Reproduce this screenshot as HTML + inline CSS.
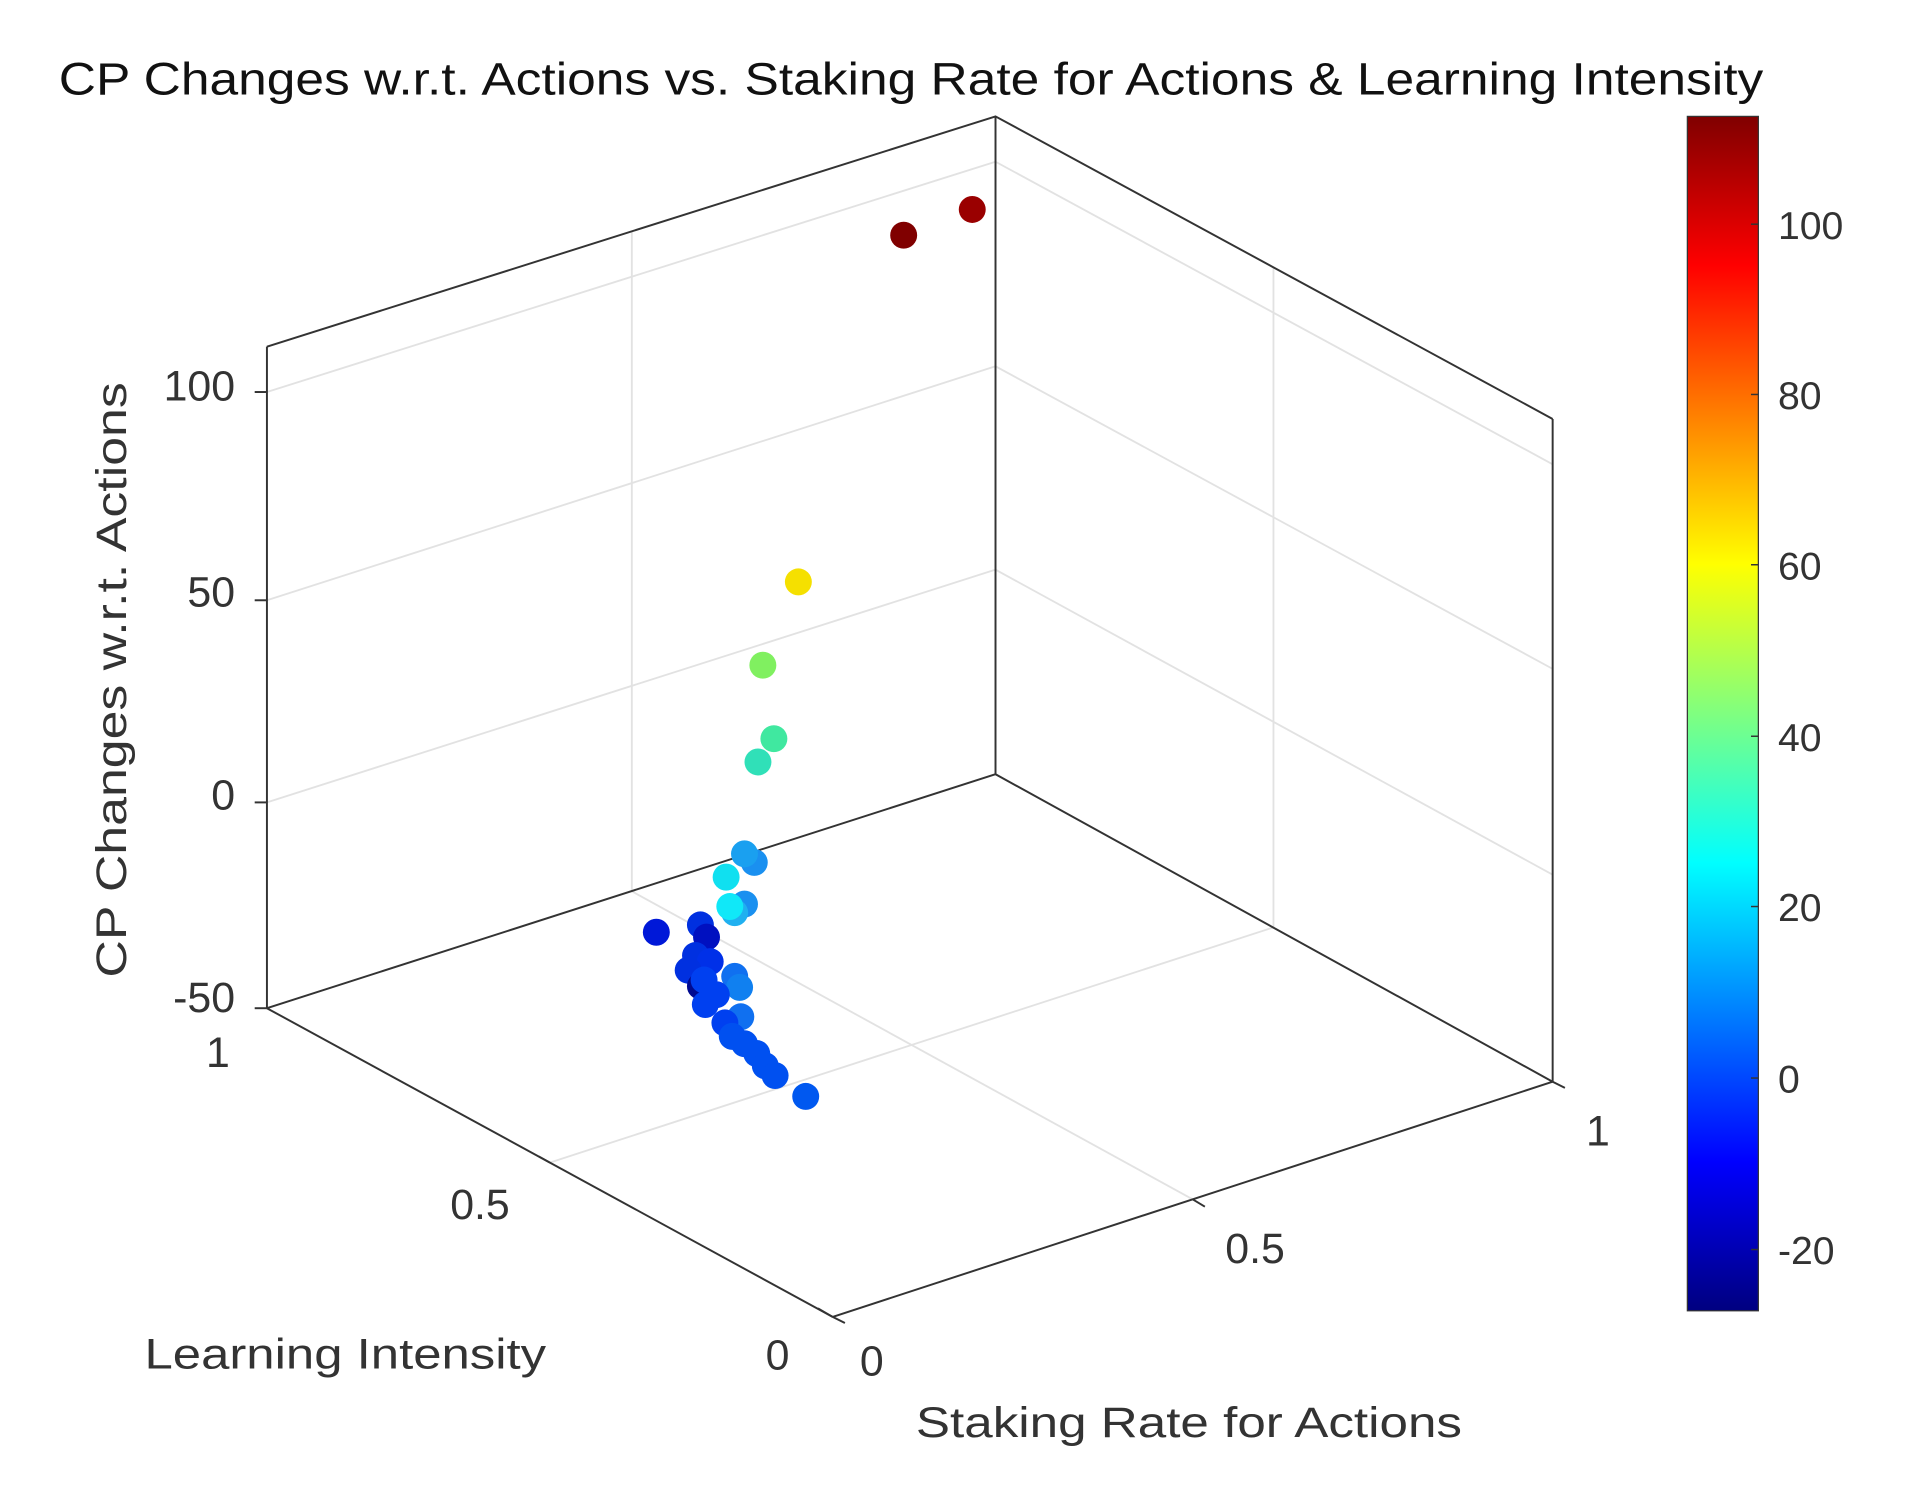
<!DOCTYPE html>
<html><head><meta charset="utf-8"><style>html,body{margin:0;padding:0;background:#fff}svg{display:block}</style></head>
<body>
<svg width="1920" height="1497" viewBox="0 0 1568 1222" preserveAspectRatio="none" xmlns="http://www.w3.org/2000/svg" font-family="Liberation Sans, Arial, sans-serif">
<defs>
<linearGradient id="jet" x1="0" y1="0" x2="0" y2="1">
<stop offset="0" stop-color="#800000"/><stop offset="0.125" stop-color="#ff0000"/><stop offset="0.375" stop-color="#ffff00"/><stop offset="0.625" stop-color="#00ffff"/><stop offset="0.875" stop-color="#0000ff"/><stop offset="1" stop-color="#000080"/>
</linearGradient>
</defs>
<rect width="1568" height="1222" fill="#fff"/>
<text x="48" y="77" font-size="37" textLength="1392" lengthAdjust="spacingAndGlyphs" fill="#111">CP Changes w.r.t. Actions vs. Staking Rate for Actions &amp; Learning Intensity</text>
<!-- grid -->
<g stroke="#e2e2e2" stroke-width="1.5" fill="none">
<polyline points="218,320 813,132 1268,379"/>
<polyline points="218,490 813,299 1268,546"/>
<polyline points="218,655 813,465 1268,714"/>
<line x1="516" y1="189" x2="516" y2="727"/>
<line x1="1040" y1="218" x2="1040" y2="757"/>
<line x1="449" y1="949" x2="1040" y2="757"/>
<line x1="974" y1="979" x2="515" y2="727"/>
</g>
<!-- box -->
<g stroke="#333" stroke-width="1.6" fill="none">
<polyline points="218,283 813,95 1268,342"/>
<polyline points="218,823 813,632 1268,883"/>
<line x1="813" y1="95" x2="813" y2="632"/>
<line x1="218" y1="283" x2="218" y2="823"/>
<line x1="1268" y1="342" x2="1268" y2="883"/>
<line x1="218" y1="823" x2="680" y2="1075"/>
<line x1="680" y1="1075" x2="1268" y2="883"/>
<line x1="208" y1="320" x2="218" y2="320"/><line x1="208" y1="490" x2="218" y2="490"/><line x1="208" y1="655" x2="218" y2="655"/><line x1="208" y1="823" x2="218" y2="823"/>
<line x1="440" y1="944" x2="449" y2="949"/><line x1="668" y1="1068" x2="680" y2="1075"/>
<line x1="680" y1="1075" x2="690" y2="1080"/><line x1="974" y1="979" x2="984" y2="985"/><line x1="1268" y1="883" x2="1278" y2="888"/>
</g>
<g font-size="35" fill="#333">
<text x="192" y="327" text-anchor="end">100</text>
<text x="192" y="495" text-anchor="end">50</text>
<text x="192" y="661" text-anchor="end">0</text>
<text x="192" y="826" text-anchor="end">-50</text>
<text x="178" y="871" text-anchor="middle">1</text>
<text x="392" y="995" text-anchor="middle">0.5</text>
<text x="635" y="1118" text-anchor="middle">0</text>
<text x="712" y="1123" text-anchor="middle">0</text>
<text x="1025" y="1031" text-anchor="middle">0.5</text>
<text x="1305" y="935" text-anchor="middle">1</text>
<text x="118" y="1117" textLength="328" lengthAdjust="spacingAndGlyphs">Learning Intensity</text>
<text x="748" y="1173" textLength="446" lengthAdjust="spacingAndGlyphs">Staking Rate for Actions</text>
<text transform="translate(103,798) rotate(-90)" textLength="486" lengthAdjust="spacingAndGlyphs">CP Changes w.r.t. Actions</text>
</g>
<!-- points -->
<g>
<circle cx="794" cy="171" r="11" fill="#9a0000"/>
<circle cx="738" cy="192" r="11" fill="#800000"/>
<circle cx="652" cy="475" r="11" fill="#f5e000"/>
<circle cx="623" cy="543" r="11" fill="#80f060"/>
<circle cx="632" cy="603" r="11" fill="#40e8a0"/>
<circle cx="619" cy="622" r="11" fill="#30e0b8"/>
<circle cx="616" cy="704" r="11" fill="#1a90f0"/>
<circle cx="608" cy="697" r="11" fill="#1aa0f0"/>
<circle cx="593" cy="716" r="11" fill="#10e0f0"/>
<circle cx="608" cy="738" r="11" fill="#1a90f0"/>
<circle cx="600" cy="745" r="11" fill="#20b0f0"/>
<circle cx="596" cy="740" r="11" fill="#10e8f8"/>
<circle cx="536" cy="761" r="11" fill="#0018d8"/>
<circle cx="572" cy="755" r="11" fill="#0030e0"/>
<circle cx="577" cy="765" r="11" fill="#0010c0"/>
<circle cx="568" cy="780" r="11" fill="#0030e0"/>
<circle cx="580" cy="785" r="11" fill="#0030e8"/>
<circle cx="562" cy="792" r="11" fill="#0030e0"/>
<circle cx="572" cy="805" r="11" fill="#000a90"/>
<circle cx="575" cy="800" r="11" fill="#0040f0"/>
<circle cx="600" cy="797" r="11" fill="#1070f0"/>
<circle cx="604" cy="806" r="11" fill="#1080f0"/>
<circle cx="585" cy="812" r="11" fill="#0040f0"/>
<circle cx="576" cy="820" r="11" fill="#0040f0"/>
<circle cx="605" cy="830" r="11" fill="#1070f0"/>
<circle cx="592" cy="835" r="11" fill="#0040f0"/>
<circle cx="598" cy="846" r="11" fill="#0050f0"/>
<circle cx="608" cy="852" r="11" fill="#0050f0"/>
<circle cx="618" cy="860" r="11" fill="#0050f0"/>
<circle cx="625" cy="870" r="11" fill="#0050f0"/>
<circle cx="633" cy="878" r="11" fill="#0050f0"/>
<circle cx="658" cy="895" r="11" fill="#0058f0"/>
</g>
<!-- colorbar -->
<rect x="1378" y="95" width="58" height="975" fill="url(#jet)" stroke="#333" stroke-width="1"/>
<g stroke="#333" stroke-width="1.2">
<line x1="1430" y1="183" x2="1436" y2="183"/><line x1="1430" y1="322" x2="1436" y2="322"/><line x1="1430" y1="461" x2="1436" y2="461"/><line x1="1430" y1="601" x2="1436" y2="601"/><line x1="1430" y1="740" x2="1436" y2="740"/><line x1="1430" y1="880" x2="1436" y2="880"/><line x1="1430" y1="1020" x2="1436" y2="1020"/>
</g>
<g font-size="32" fill="#333">
<text x="1452" y="195">100</text><text x="1452" y="334">80</text><text x="1452" y="473">60</text><text x="1452" y="613">40</text><text x="1452" y="752">20</text><text x="1452" y="892">0</text><text x="1452" y="1032">-20</text>
</g>
</svg>
</body></html>
